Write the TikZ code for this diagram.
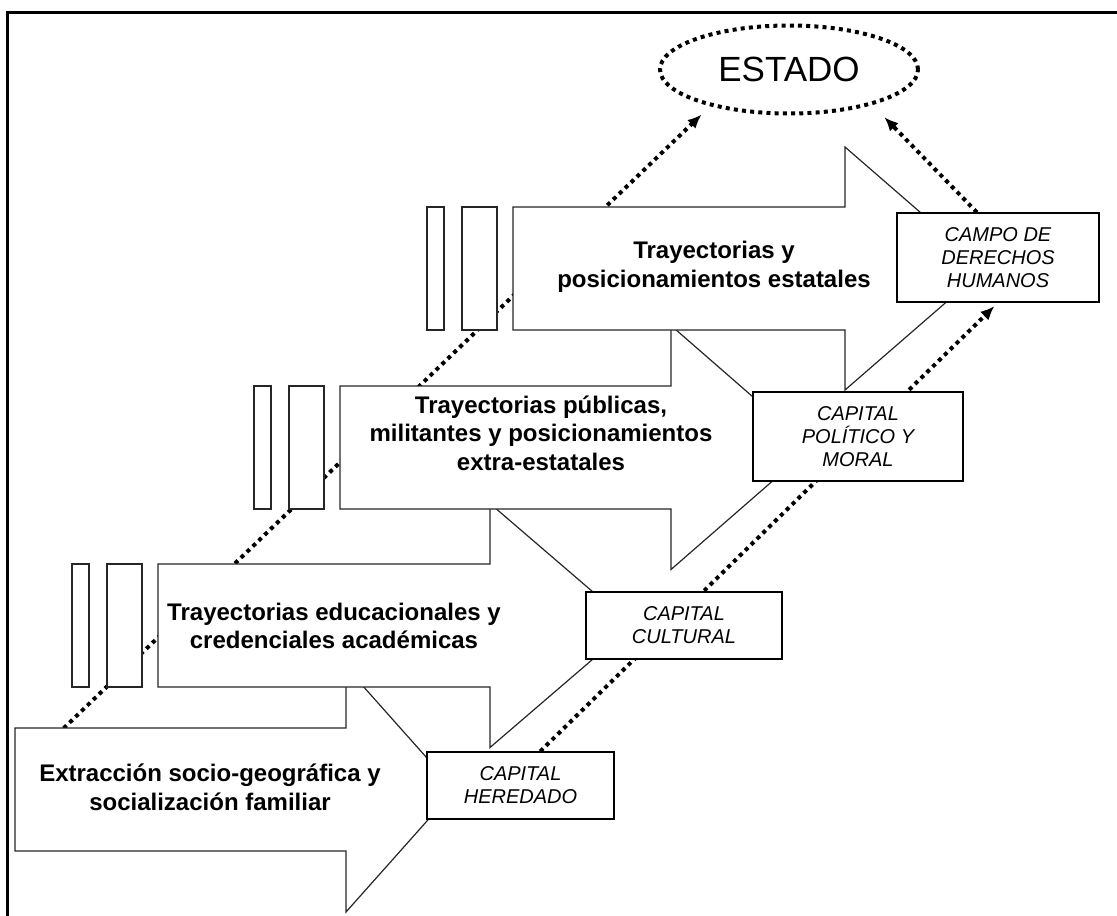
\documentclass[tikz,border=0pt]{standalone}
\usepackage{fontspec}
\setmainfont{Liberation Sans}
\usetikzlibrary{calc,positioning,shapes.geometric,arrows.meta,backgrounds}

% one block arrow: left x, right x, middle y, tip x, half height of the head
\newcommand{\flechagrande}[5]{%
  \draw[flecha] (#1,#3-61.5) -- (#2,#3-61.5) -- (#2,#3-#5) -- (#4,#3)
    -- (#2,#3+#5) -- (#2,#3+61.5) -- (#1,#3+61.5) -- cycle;}

\tikzset{
  flecha/.style={draw=black!85, line width=1.2pt, fill=white, line join=miter},
  barra/.style={draw=black!85, line width=1.2pt, fill=white},
  capital/.style={draw, line width=1.3pt, fill=white, align=center, inner sep=0pt,
    font=\fontsize{20}{23}\selectfont\itshape},
  etiqueta/.style={align=center, font=\fontsize{24}{28.5}\selectfont\bfseries},
  puntos/.style={line width=4pt, dash pattern=on 4pt off 4.2pt},
  punteado/.style={puntos, -{Latex[length=14pt,width=12pt]}},
}

\begin{document}
\begin{tikzpicture}[x=1pt,y=-1pt]
  \useasboundingbox (0,0) rectangle (1117,916);
  \draw[line width=3pt] (7,916) -- (7,12) -- (1117,12);

  % arrows, from the bottom up
  \flechagrande{15}{346}{789.5}{455}{122.5}
  \flechagrande{158}{490}{625.5}{632}{122}
  \flechagrande{340}{671}{447.5}{811}{122}
  \flechagrande{513}{845}{268.5}{985}{121.5}

  \foreach \L/\cy in {158/625.5, 340/447.5, 513/268.5} {
    \draw[barra] (\L-86,\cy-61.5) rectangle ++(17,123);
    \draw[barra] (\L-51,\cy-61.5) rectangle ++(35,123);
  }

  \node[etiqueta] (txt1) at (210,787.5) {Extracción socio-geográfica y\\socialización familiar};
  \node[etiqueta] (txt2) at (334,626) {Trayectorias educacionales y\\credenciales académicas};
  \node[etiqueta] (txt3) at (541,433) {Trayectorias públicas,\\militantes y posicionamientos\\extra-estatales};
  \node[etiqueta] (txt4) at (714,267) {Trayectorias y\\posicionamientos estatales};

  \node[capital, minimum width=187pt, minimum height=67pt] (heredado) at (520.5,785.5) {CAPITAL\\HEREDADO};
  \node[capital, minimum width=196pt, minimum height=67pt] (cultural) at (684,625.5) {CAPITAL\\CULTURAL};
  \node[capital, minimum width=210pt, minimum height=89pt] (politico) at (858,436.5) {CAPITAL\\POLÍTICO Y\\MORAL};
  \node[capital, minimum width=202pt, minimum height=89pt] (campo) at (998,257.5) {CAMPO DE\\DERECHOS\\HUMANOS};

  \node[ellipse, draw, puntos, minimum width=258pt, minimum height=88pt,
        font=\fontsize{35}{40}\selectfont] (estado) at (789,69.5) {ESTADO};

  \coordinate (inicio) at (40,751);

  \begin{pgfonlayer}{background}
    \draw[punteado, shorten >=12pt] (inicio) -- (estado.205);
    \draw[punteado, shorten >=5pt] (heredado.60) -- (campo.south);
    \draw[punteado, shorten >=17pt] (campo.115) -- (estado.-23);
  \end{pgfonlayer}
\end{tikzpicture}
\end{document}
